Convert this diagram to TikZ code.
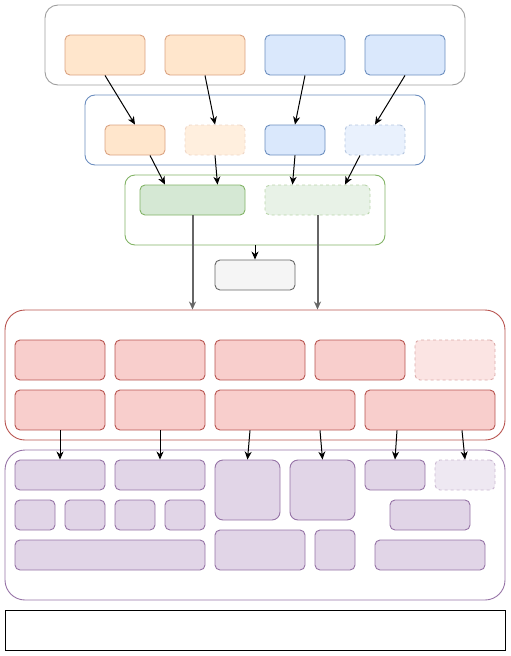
\documentclass[tikz,border=0pt]{standalone}
\usepackage[dvipsnames]{xcolor}
\usepackage{tikz}
\usetikzlibrary{arrows.meta}

\definecolor{orangefill}{HTML}{FFE6CC}
\definecolor{orangeline}{HTML}{DBA382}
\definecolor{bluefill}{HTML}{DAE8FC}
\definecolor{blueline}{HTML}{6C8EBF}
\definecolor{greenfill}{HTML}{D5E8D4}
\definecolor{greenline}{HTML}{82B366}
\definecolor{redfill}{HTML}{F8CECC}
\definecolor{redline}{HTML}{B85450}
\definecolor{purplefill}{HTML}{E1D5E7}
\definecolor{purpleline}{HTML}{9673A6}
\definecolor{greyfill}{HTML}{F5F5F5}
\definecolor{greyline}{HTML}{666666}

\begin{document}
\begin{tikzpicture}[x=1pt, y=-1pt,
        blk/.style={rectangle, inner sep=0pt, rounded corners=5pt, line width=0.9pt},
        faded/.style={dash pattern=on 3pt off 3pt},
        orangebox/.style={blk, fill=orangefill, draw=orangeline},
        bluebox/.style={blk, fill=bluefill, draw=blueline},
        greenbox/.style={blk, fill=greenfill, draw=greenline},
        redbox/.style={blk, fill=redfill, draw=redline},
        purplebox/.style={blk, fill=purplefill, draw=purpleline},
        greybox/.style={blk, fill=greyfill, draw=greyline},
        group/.style={rectangle, inner sep=0pt, line width=0.9pt, fill=none},
        link/.style={-{Stealth[length=8pt, width=7pt, inset=2.5pt]}, line width=1pt},
        biglink/.style={-{Stealth[length=8pt, width=7pt, inset=2.5pt]}, line width=2pt, greyline}]

        \useasboundingbox (0, 0) rectangle (511, 656);

        % containers
        \node[group, draw=black!38, rounded corners=13pt, minimum width=420, minimum height=80] (top) at (255, 45) {};
        \node[group, draw=blueline, rounded corners=10pt, minimum width=340, minimum height=70] (mid) at (255, 130) {};
        \node[group, draw=greenline, rounded corners=10pt, minimum width=260, minimum height=70] (grn) at (255, 210) {};
        \node[group, draw=redline, rounded corners=20pt, minimum width=500, minimum height=130] (red) at (255, 375) {};
        \node[group, draw=purpleline, rounded corners=20pt, minimum width=500, minimum height=150] (pur) at (255, 525) {};
        \node[group, draw=black, minimum width=500, minimum height=40] (bot) at (255, 630) {};

        % top row
        \node[orangebox, minimum width=80, minimum height=40] (t1) at (105, 55) {};
        \node[orangebox, minimum width=80, minimum height=40] (t2) at (205, 55) {};
        \node[bluebox, minimum width=80, minimum height=40] (t3) at (305, 55) {};
        \node[bluebox, minimum width=80, minimum height=40] (t4) at (405, 55) {};

        % second row
        \node[orangebox, minimum width=60, minimum height=30] (m1) at (135, 140) {};
        \node[orangebox, faded, fill=orangefill!65, draw=orangeline!45, minimum width=60, minimum height=30] (m2) at (215, 140) {};
        \node[bluebox, minimum width=60, minimum height=30] (m3) at (295, 140) {};
        \node[bluebox, faded, fill=bluefill!60, draw=blueline!50, minimum width=60, minimum height=30] (m4) at (375, 140) {};

        % green row
        \node[greenbox, minimum width=105, minimum height=30] (g1) at (192.5, 200) {};
        \node[greenbox, faded, fill=greenfill!55, draw=greenline!55, minimum width=105, minimum height=30] (g2) at (317.5, 200) {};

        \node[greybox, minimum width=80, minimum height=30] (gr) at (255, 275) {};

        % red block
        \node[redbox, minimum width=90, minimum height=40] (r1) at (60, 360) {};
        \node[redbox, minimum width=90, minimum height=40] (r2) at (160, 360) {};
        \node[redbox, minimum width=90, minimum height=40] (r3) at (260, 360) {};
        \node[redbox, minimum width=90, minimum height=40] (r4) at (360, 360) {};
        \node[redbox, faded, fill=redfill!55, draw=redline!50, minimum width=80, minimum height=40] (r5) at (455, 360) {};
        \node[redbox, minimum width=90, minimum height=40] (r6) at (60, 410) {};
        \node[redbox, minimum width=90, minimum height=40] (r7) at (160, 410) {};
        \node[redbox, minimum width=140, minimum height=40] (r8) at (285, 410) {};
        \node[redbox, minimum width=130, minimum height=40] (r9) at (430, 410) {};

        % purple block
        \node[purplebox, minimum width=90, minimum height=30] (p1) at (60, 475) {};
        \node[purplebox, minimum width=90, minimum height=30] (p2) at (160, 475) {};
        \node[purplebox, rounded corners=8pt, minimum width=65, minimum height=60] (p3) at (247.5, 490) {};
        \node[purplebox, rounded corners=8pt, minimum width=65, minimum height=60] (p4) at (322.5, 490) {};
        \node[purplebox, minimum width=60, minimum height=30] (p5) at (395, 475) {};
        \node[purplebox, faded, fill=purplefill!55, draw=purpleline!50, minimum width=60, minimum height=30] (p6) at (465, 475) {};
        \node[purplebox, minimum width=40, minimum height=30] (p7) at (35, 515) {};
        \node[purplebox, minimum width=40, minimum height=30] (p8) at (85, 515) {};
        \node[purplebox, minimum width=40, minimum height=30] (p9) at (135, 515) {};
        \node[purplebox, minimum width=40, minimum height=30] (p10) at (185, 515) {};
        \node[purplebox, minimum width=80, minimum height=30] (p11) at (430, 515) {};
        \node[purplebox, minimum width=190, minimum height=30] (p12) at (110, 555) {};
        \node[purplebox, minimum width=90, minimum height=40] (p13) at (260, 550) {};
        \node[purplebox, minimum width=40, minimum height=40] (p14) at (335, 550) {};
        \node[purplebox, minimum width=110, minimum height=30] (p15) at (430, 555) {};

        % arrows
        \draw[link] (t1.south) -- (m1.north);
        \draw[link] (t2.south) -- (m2.north);
        \draw[link] (t3.south) -- (m3.north);
        \draw[link] (t4.south) -- (m4.north);

        \draw[link] ([xshift=15]m1.south) -- ([xshift=-27.5]g1.north);
        \draw[link] (m2.south) -- ([xshift=25]g1.north);
        \draw[link] (m3.south) -- ([xshift=-25]g2.north);
        \draw[link] ([xshift=-15]m4.south) -- ([xshift=27.5]g2.north);

        \draw[link] (grn.south) -- (gr.north);

        \draw[biglink] (g1.south) -- (g1.south |- red.north);
        \draw[biglink] (g2.south) -- (g2.south |- red.north);

        \draw[link] (r6.south) -- (p1.north);
        \draw[link] (r7.south) -- (p2.north);
        \draw[link] ([xshift=-35]r8.south) -- (p3.north);
        \draw[link] ([xshift=35]r8.south) -- (p4.north);
        \draw[link] ([xshift=-33]r9.south) -- (p5.north);
        \draw[link] ([xshift=32]r9.south) -- (p6.north);

    \end{tikzpicture}
\end{document}
